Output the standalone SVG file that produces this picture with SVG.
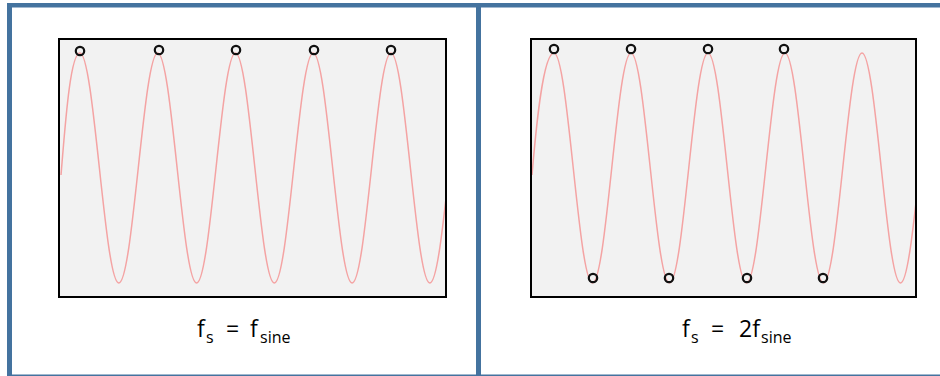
<svg xmlns="http://www.w3.org/2000/svg" width="940" height="376" viewBox="0 0 940 376">
<style>
.frame{fill:#44739f}
.box{fill:#f2f2f2;stroke:#000;stroke-width:2}
.wave{fill:none;stroke:#f4a3a3;stroke-width:1.5}
.pt{fill:none;stroke:#111;stroke-width:2.2}
.lbl{font-family:"Open Sans","Liberation Sans",sans-serif;fill:#000}
</style>
<defs>
<clipPath id="cl"><rect x="60" y="40" width="385" height="256"/></clipPath>
<clipPath id="cr"><rect x="532" y="40" width="383" height="256"/></clipPath>
</defs>
<rect width="940" height="376" fill="#fff"/>
<g id="frame">
<rect class="frame" x="7" y="3" width="933" height="4.5"/>
<rect class="frame" x="7" y="3" width="5" height="373"/>
<rect class="frame" x="476" y="3" width="5" height="373"/>
<rect class="frame" x="7" y="374.5" width="933" height="1.5"/>
</g>
<g id="left-panel">
<rect class="box" x="59" y="39" width="387" height="258"/>
<path class="wave" clip-path="url(#cl)" d="M61,175 C65,128 70,53 79.94,53 c7.04,0 13.10,56.1 19.44,115 s12.40,115 19.44,115 s13.10,-56.1 19.44,-115 s12.40,-115 19.44,-115 s13.10,56.1 19.44,115 s12.40,115 19.44,115 s13.10,-56.1 19.44,-115 s12.40,-115 19.44,-115 s13.10,56.1 19.44,115 s12.40,115 19.44,115 s13.10,-56.1 19.44,-115 s12.40,-115 19.44,-115 s13.10,56.1 19.44,115 s12.40,115 19.44,115 s13.10,-56.1 19.44,-115 s12.40,-115 19.44,-115 s13.10,56.1 19.44,115 s12.40,115 19.44,115 s13.10,-56.1 19.44,-115"/>
<g id="left-samples">
<circle class="pt" cx="80" cy="51" r="4.2"/>
<circle class="pt" cx="159" cy="50" r="4.2"/>
<circle class="pt" cx="236" cy="50" r="4.2"/>
<circle class="pt" cx="314" cy="50" r="4.2"/>
<circle class="pt" cx="391" cy="50" r="4.2"/>
</g>
<text class="lbl" font-size="23"><tspan x="197" y="337">f</tspan><tspan x="206" y="343" font-size="16">s</tspan><tspan x="226" y="337">=</tspan><tspan x="250" y="337">f</tspan><tspan x="260" y="343" font-size="16">sine</tspan></text>
</g>
<g id="right-panel">
<rect class="box" x="531" y="39" width="385" height="258"/>
<path class="wave" clip-path="url(#cr)" d="M532,175 C536,128 543,53 554,53 c6.97,0 12.97,56.1 19.25,115 s12.28,115 19.25,115 s12.97,-56.1 19.25,-115 s12.28,-115 19.25,-115 s12.97,56.1 19.25,115 s12.28,115 19.25,115 s12.97,-56.1 19.25,-115 s12.28,-115 19.25,-115 s12.97,56.1 19.25,115 s12.28,115 19.25,115 s12.97,-56.1 19.25,-115 s12.28,-115 19.25,-115 s12.97,56.1 19.25,115 s12.28,115 19.25,115 s12.97,-56.1 19.25,-115 s12.28,-115 19.25,-115 s12.97,56.1 19.25,115 s12.28,115 19.25,115 s12.97,-56.1 19.25,-115"/>
<g id="right-samples">
<circle class="pt" cx="554" cy="49" r="4.2"/>
<circle class="pt" cx="631" cy="49" r="4.2"/>
<circle class="pt" cx="708" cy="49" r="4.2"/>
<circle class="pt" cx="784" cy="49" r="4.2"/>
<circle class="pt" cx="593" cy="278" r="4.2"/>
<circle class="pt" cx="669" cy="278" r="4.2"/>
<circle class="pt" cx="747" cy="278" r="4.2"/>
<circle class="pt" cx="823" cy="278" r="4.2"/>
</g>
<text class="lbl" font-size="23"><tspan x="682" y="337">f</tspan><tspan x="691" y="343" font-size="16">s</tspan><tspan x="711" y="337">=</tspan><tspan x="739" y="337">2f</tspan><tspan x="761" y="343" font-size="16">sine</tspan></text>
</g>
</svg>
